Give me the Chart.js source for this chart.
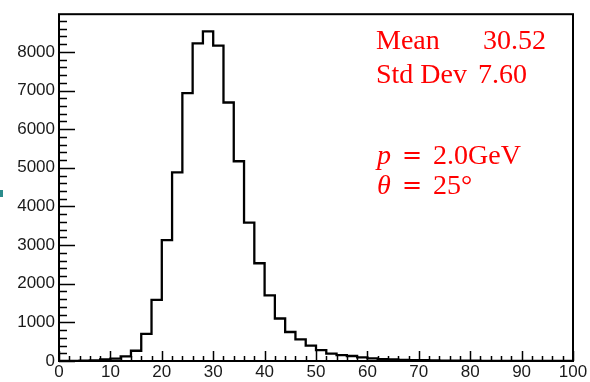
<!DOCTYPE html>
<html>
<head>
<meta charset="utf-8">
<script src="https://cdn.jsdelivr.net/npm/chart.js@4/dist/chart.umd.min.js"></script>
<style>
  body { margin: 0; background: #fff; }
  #wrap { position: relative; width: 590px; height: 382px; }
  .note { position: absolute; color: #ff0000; font-family: "Liberation Serif", serif; white-space: pre; line-height: 1; }
  .stat { font-size: 28px; }
  .math { font-size: 28px; }
  .eq { font-family: "DejaVu Serif", serif; font-size: 24px; }
  .tab { position: absolute; left: 0; top: 190px; width: 3px; height: 7px; background: #2b8c8c; }
</style>
</head>
<body>
<div id="wrap">
  <canvas id="hist" width="590" height="382"></canvas>
  <div class="tab"></div>
  <div class="note stat" style="left:376px;top:26px">Mean</div>
  <div class="note stat" style="left:483px;top:26px">30.52</div>
  <div class="note stat" style="left:376px;top:60px">Std Dev</div>
  <div class="note stat" style="left:478px;top:60px">7.60</div>
  <div class="note math" style="left:377px;top:141px"><i>p</i></div>
  <div class="note eq" style="left:402px;top:143px">=</div>
  <div class="note math" style="left:433px;top:141px">2.0GeV</div>
  <div class="note math" style="left:377px;top:171px"><i>θ</i></div>
  <div class="note eq" style="left:402px;top:173px">=</div>
  <div class="note math" style="left:433px;top:171px">25°</div>
</div>
<script>
// lower bin edges (width 2) and counts per bin
const binLow = [0, 2, 4, 6, 8, 10, 12, 14, 16, 18, 20, 22, 24, 26, 28, 30, 32, 34, 36, 38,
  40, 42, 44, 46, 48, 50, 52, 54, 56, 58, 60, 62, 64, 66, 68, 70, 72, 74, 76, 78,
  80, 82, 84, 86, 88, 90, 92, 94, 96, 98];
const binHigh = 100;
const counts = [5, 5, 10, 15, 40, 60, 120, 265, 700, 1580, 3130, 4880, 6930, 8220, 8530, 8160, 6690, 5170, 3580, 2530,
  1700, 1100, 750, 560, 400, 280, 190, 150, 130, 95, 70, 50, 40, 30, 25, 20, 15, 12, 10, 8,
  6, 5, 4, 4, 3, 3, 2, 2, 1, 1];
const xTicks = [0, 10, 20, 30, 40, 50, 60, 70, 80, 90, 100];
const yTicks = [0, 1000, 2000, 3000, 4000, 5000, 6000, 7000, 8000];
const yMax = 8975;

// stepped 'before' holds each point's count until the next edge
const steps = binLow.map((x, i) => ({ x: x, y: counts[i] }));
steps.push({ x: binHigh, y: counts[counts.length - 1] });

const axisFont = { family: "Liberation Sans", size: 17 };

// frame plus inward ticks, ROOT style
const frame = {
  id: 'frame',
  afterDatasetsDraw(chart) {
    const { ctx, chartArea: a, scales: { x, y } } = chart;
    ctx.save();
    ctx.strokeStyle = '#000';
    ctx.lineWidth = 1.5;
    ctx.beginPath();
    for (let v = 0; v <= 100; v += 2) {
      const px = Math.round(x.getPixelForValue(v)) + 0.5;
      const len = v % 10 === 0 ? 10 : 5;
      ctx.moveTo(px, a.bottom);
      ctx.lineTo(px, a.bottom - len);
    }
    for (let v = 0; v <= yMax; v += 200) {
      const py = Math.round(y.getPixelForValue(v)) + 0.5;
      const len = v % 1000 === 0 ? 16 : 8;
      ctx.moveTo(a.left, py);
      ctx.lineTo(a.left + len, py);
    }
    ctx.stroke();
    ctx.lineWidth = 2;
    ctx.strokeRect(a.left, a.top, a.right - a.left, a.bottom - a.top);
    ctx.restore();
  }
};

new Chart(document.getElementById('hist'), {
  type: 'line',
  data: {
    datasets: [{
      data: steps,
      stepped: 'before',
      borderColor: '#000',
      borderWidth: 2.3,
      pointRadius: 0,
      fill: false
    }]
  },
  options: {
    responsive: false,
    animation: false,
    devicePixelRatio: 1,
    layout: { padding: { top: 10, right: 17, left: 0, bottom: 0 } },
    plugins: { legend: { display: false }, tooltip: { enabled: false } },
    scales: {
      x: {
        type: 'linear',
        min: 0,
        max: 100,
        afterBuildTicks: s => { s.ticks = xTicks.map(v => ({ value: v })); },
        afterFit: s => { s.height = 21; },
        ticks: { font: axisFont, color: '#1a1a1a', padding: 1, maxRotation: 0, autoSkip: false, callback: v => String(v) },
        grid: { display: false, drawTicks: false },
        border: { display: false }
      },
      y: {
        min: 0,
        max: yMax,
        afterBuildTicks: s => { s.ticks = yTicks.map(v => ({ value: v })); },
        afterFit: s => { s.width = 59; },
        ticks: { font: axisFont, color: '#1a1a1a', padding: 4, autoSkip: false, callback: v => String(v) },
        grid: { display: false, drawTicks: false },
        border: { display: false }
      }
    }
  },
  plugins: [frame]
});
</script>
</body>
</html>
